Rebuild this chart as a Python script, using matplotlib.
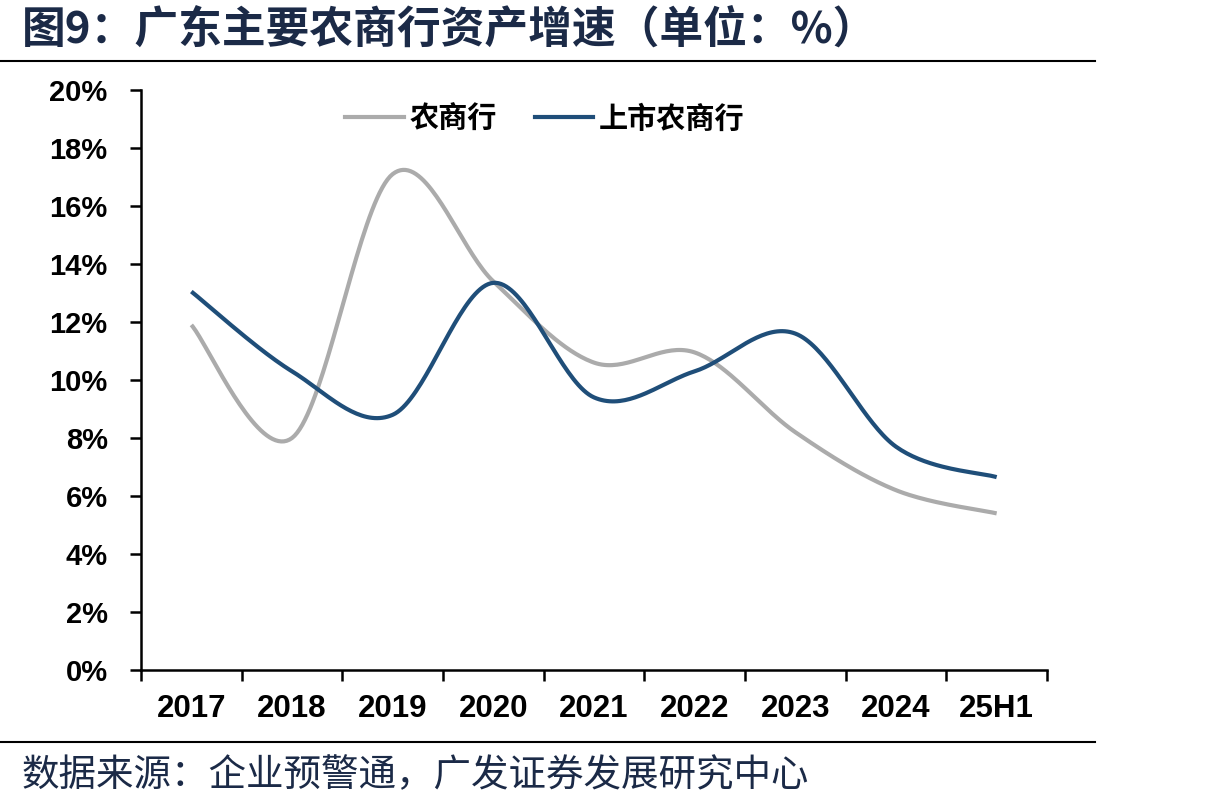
import numpy as np
import matplotlib
matplotlib.use("Agg")
import matplotlib.pyplot as plt
from matplotlib.lines import Line2D

plt.rcParams['font.family'] = ['Noto Sans CJK SC', 'DejaVu Sans']

categories = ["2017", "2018", "2019", "2020", "2021", "2022", "2023", "2024", "25H1"]
rural = [11.9, 8.0, 17.1, 13.4, 10.6, 10.95, 8.2, 6.2, 5.4]
listed = [13.05, 10.3, 8.8, 13.35, 9.4, 10.3, 11.6, 7.7, 6.65]
yticks = [0, 2, 4, 6, 8, 10, 12, 14, 16, 18, 20]
series_names = ["农商行", "上市农商行"]
title = "图9：广东主要农商行资产增速（单位：%）"
source = "数据来源：企业预警通，广发证券发展研究中心"

GRAY = "#ABABAB"
BLUE = "#1F4E79"
NAVY = "#1B2A47"


def smooth(x, y, n=40):
    x = np.asarray(x, float)
    y = np.asarray(y, float)
    px = np.concatenate([[x[0]], x, [x[-1]]])
    py = np.concatenate([[y[0]], y, [y[-1]]])
    xs, ys = [], []
    for i in range(1, len(px) - 2):
        p0 = np.array([px[i - 1], py[i - 1]])
        p1 = np.array([px[i], py[i]])
        p2 = np.array([px[i + 1], py[i + 1]])
        p3 = np.array([px[i + 2], py[i + 2]])
        c1 = p1 + (p2 - p0) / 6.0
        c2 = p2 - (p3 - p1) / 6.0
        t = np.linspace(0, 1, n)[:, None]
        b = ((1 - t) ** 3) * p1 + 3 * ((1 - t) ** 2) * t * c1 + 3 * (1 - t) * t ** 2 * c2 + t ** 3 * p2
        xs.append(b[:, 0])
        ys.append(b[:, 1])
    return np.concatenate(xs), np.concatenate(ys)


fig = plt.figure(figsize=(12.08, 8.11), dpi=100)
ax = fig.add_axes([141 / 1208, 1 - 670 / 811, (1047 - 141) / 1208, (670 - 90) / 811])

x = np.arange(len(categories))
sx, sy = smooth(x, rural)
ax.plot(sx, sy, color=GRAY, lw=3.0, solid_capstyle='butt')
sx, sy = smooth(x, listed)
ax.plot(sx, sy, color=BLUE, lw=3.0, solid_capstyle='butt')

ax.set_xlim(-0.5, len(categories) - 0.5)
ax.set_ylim(0, 20)

ax.set_yticks(yticks)
ax.set_yticklabels([f"{v}%" for v in yticks], fontfamily='Liberation Sans', fontweight='bold', fontsize=21)
ax.tick_params(axis='y', direction='out', length=8, width=1.8, pad=16)

ax.set_xticks(np.arange(len(categories) + 1) - 0.5)
ax.set_xticklabels([])
ax.tick_params(axis='x', which='major', direction='out', length=8, width=1.8)
ax.set_xticks(x, minor=True)
ax.set_xticklabels(categories, minor=True, fontfamily='Liberation Sans', fontweight='bold', fontsize=22.5)
ax.tick_params(axis='x', which='minor', length=0, pad=17)

for s in ['top', 'right']:
    ax.spines[s].set_visible(False)
for s in ['left', 'bottom']:
    ax.spines[s].set_linewidth(1.8)
    ax.spines[s].set_color('black')

handles = [Line2D([0], [0], color=GRAY, lw=3.0), Line2D([0], [0], color=BLUE, lw=3.0)]
leg = ax.legend(handles, series_names, loc='upper center', bbox_to_anchor=(0.446, 1.022), ncol=2,
                frameon=False, prop={'family': 'Noto Sans CJK SC', 'weight': 'bold', 'size': 21},
                handlelength=2.0, handletextpad=0.2, columnspacing=1.3)

fig.text(22 / 1208, 1 - 30 / 811, title, fontsize=31.5, fontweight='bold', color=NAVY, va='center', ha='left')
fig.add_artist(Line2D([0, 1095 / 1208], [1 - 61 / 811] * 2, color='black', lw=1.5))
fig.add_artist(Line2D([0, 1095 / 1208], [1 - 742 / 811] * 2, color='black', lw=1.5))
fig.text(22 / 1208, 1 - 776 / 811, source, fontsize=27, color=NAVY, va='center', ha='left')

fig.savefig("out.png", dpi=100)
